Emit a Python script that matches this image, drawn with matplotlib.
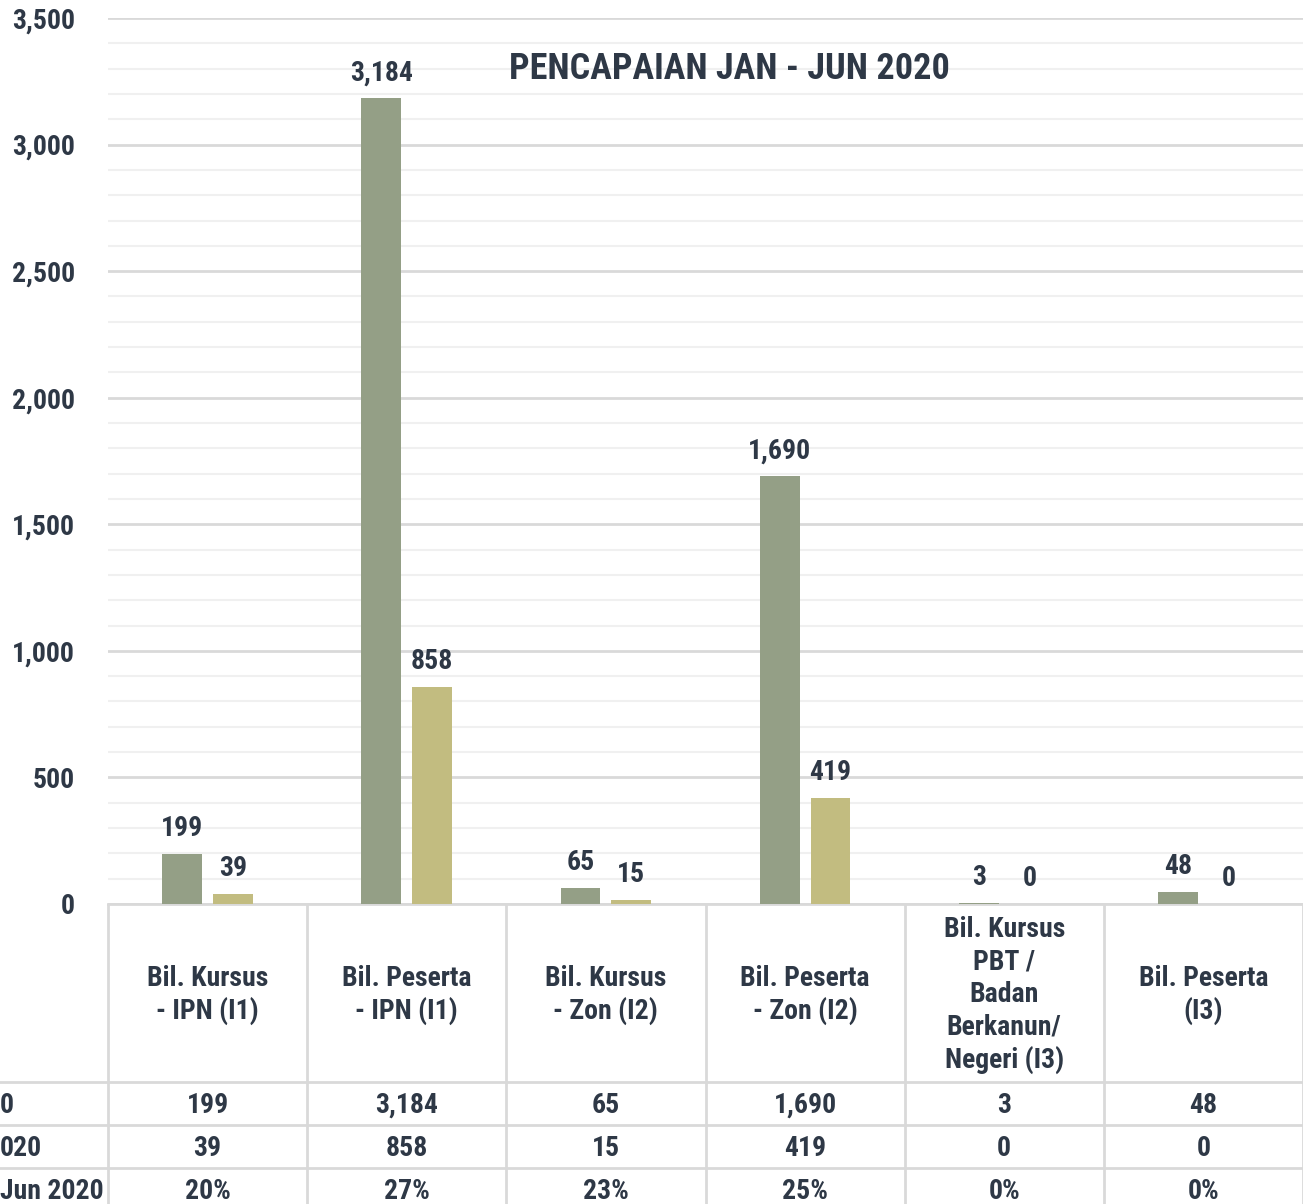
import matplotlib
matplotlib.use("Agg")
import matplotlib.pyplot as plt
from matplotlib.ticker import MultipleLocator, FuncFormatter

plt.rcParams['font.family'] = ['Roboto Condensed', 'DejaVu Sans']
plt.rcParams['font.weight'] = 'bold'

# data
kategori = ["Bil. Kursus\n- IPN (I1)", "Bil. Peserta\n- IPN (I1)", "Bil. Kursus\n- Zon (I2)",
            "Bil. Peserta\n- Zon (I2)", "Bil. Kursus\nPBT /\nBadan\nBerkanun/\nNegeri (I3)",
            "Bil. Peserta\n(I3)"]
sasaran = [199, 3184, 65, 1690, 3, 48]
pencapaian = [39, 858, 15, 419, 0, 0]
peratus = ["20%", "27%", "23%", "25%", "0%", "0%"]
label_baris = ["0", "020", "Jun 2020"]
tajuk = "PENCAPAIAN JAN - JUN 2020"

HIJAU = "#949F86"
KUNING = "#C2BC80"
TEKS = "#2E3846"
GARIS = "#D9D9D9"
FS = 20

W, H = 1303, 1204
fig = plt.figure(figsize=(W / 100, H / 100), dpi=100)

x0, y0, ytop = 108, 904, 18
ax = fig.add_axes([x0 / W, (H - y0) / H, (W - x0) / W, (y0 - ytop) / H])
n = len(kategori)
xs = [i + 0.5 for i in range(n)]
bw = 0.2
off = 0.128
ax.bar([x - off for x in xs], sasaran, width=bw, color=HIJAU, zorder=3)
ax.bar([x + off for x in xs], pencapaian, width=bw, color=KUNING, zorder=3)

for x, v in zip(xs, sasaran):
    ax.annotate(f"{v:,}", (x - off, v), xytext=(0, 8.5), textcoords="offset points",
                ha="center", va="bottom", fontsize=FS, color=TEKS, fontweight="bold")
for x, v in zip(xs, pencapaian):
    ax.annotate(f"{v:,}", (x + off, v), xytext=(0, 8.5), textcoords="offset points",
                ha="center", va="bottom", fontsize=FS, color=TEKS, fontweight="bold")

ax.set_xlim(0, n)
ax.set_ylim(0, 3500)
ax.yaxis.set_major_locator(MultipleLocator(500))
ax.yaxis.set_minor_locator(MultipleLocator(100))
ax.yaxis.set_major_formatter(FuncFormatter(lambda v, p: f"{int(v):,}"))
ax.grid(axis="y", which="major", color=GARIS, lw=2, zorder=0)
ax.grid(axis="y", which="minor", color="#F0F0F0", lw=1.5, zorder=0)
ax.tick_params(axis="y", which="both", length=0, pad=24, labelsize=FS, labelcolor=TEKS)
ax.tick_params(axis="x", length=0, labelbottom=False)
for lbl in ax.get_yticklabels():
    lbl.set_fontweight("bold")
for s in ["top", "right", "left"]:
    ax.spines[s].set_visible(False)
ax.spines["bottom"].set_color(GARIS)
ax.spines["bottom"].set_linewidth(2)
ax.text(0.52, 0.943, tajuk, transform=ax.transAxes, ha="center", va="center",
        fontsize=26, color=TEKS, fontweight="bold")

# jadual data di bawah
tb = fig.add_axes([0, 0, 1, (H - y0) / H])
tb.set_xlim(0, W)
tb.set_ylim(H, y0)
tb.axis("off")
colw = (W - x0) / n
baris_y = [1082, 1125, 1168, 1211]
for i in range(n + 1):
    tb.plot([x0 + i * colw] * 2, [y0, H], color=GARIS, lw=2)
for y in baris_y[:-1]:
    tb.plot([0, W], [y, y], color=GARIS, lw=2)
for i, k in enumerate(kategori):
    tb.text(x0 + (i + 0.5) * colw, (y0 + baris_y[0]) / 2 + 2, k, ha="center", va="center",
            fontsize=FS, color=TEKS, fontweight="bold", linespacing=1.25)
nilai_baris = [[f"{v:,}" for v in sasaran], [f"{v:,}" for v in pencapaian], peratus]
for r, vals in enumerate(nilai_baris):
    yc = (baris_y[r] + baris_y[r + 1]) / 2 + 2
    for i, v in enumerate(vals):
        tb.text(x0 + (i + 0.5) * colw, yc, v, ha="center", va="center",
                fontsize=FS, color=TEKS, fontweight="bold")
    tb.text(0, yc, label_baris[r], ha="left", va="center", fontsize=FS,
            color=TEKS, fontweight="bold")

fig.savefig("out.png", dpi=100)
